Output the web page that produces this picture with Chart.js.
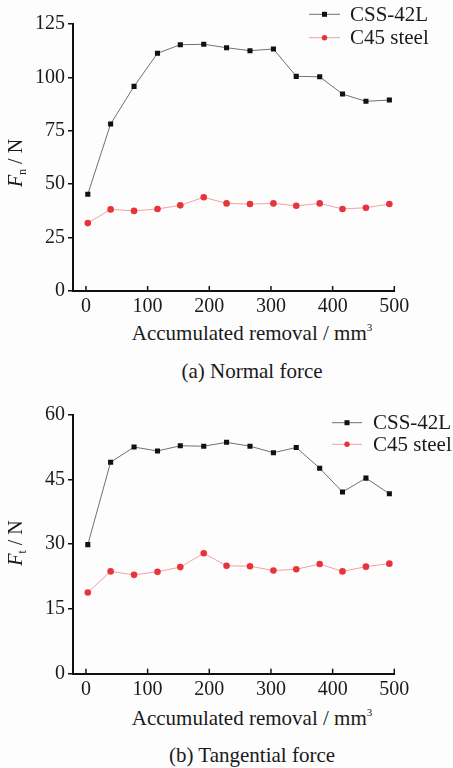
<!DOCTYPE html>
<html lang="en">
<head>
<meta charset="UTF-8">
<title>Normal and tangential force</title>
<script src="https://cdn.jsdelivr.net/npm/chart.js"></script>
<style>
  body { margin: 0; background: #fdfdfd; font-family: "Liberation Serif", "Times New Roman", serif; color: #1a1a1a; }
  .page { position: relative; width: 453px; height: 768px; overflow: hidden; }
  canvas { position: absolute; left: 0; }
  .lbl { position: absolute; transform: translate(-50%, -50%); white-space: nowrap; font-size: 21px; line-height: 1; }
  .ylbl { font-size: 20px; transform: translate(-50%, -50%) rotate(-90deg); }
  sub { font-size: 12px; vertical-align: -4px; }
  sup { font-size: 11px; vertical-align: 9px; }
</style>
</head>
<body>
<div class="page">
  <canvas id="normalChart" width="453" height="320" style="top:0"></canvas>
  <canvas id="tangChart" width="453" height="320" style="top:384px"></canvas>

  <div class="lbl ylbl" style="left:16px; top:163px"><i>F</i><sub>n</sub> / N</div>
  <div class="lbl" style="left:252px; top:333px">Accumulated removal / mm<sup>3</sup></div>
  <div class="lbl" style="left:252px; top:371px">(a) Normal force</div>

  <div class="lbl ylbl" style="left:16px; top:543px"><i>F</i><sub>t</sub> / N</div>
  <div class="lbl" style="left:252px; top:718px">Accumulated removal / mm<sup>3</sup></div>
  <div class="lbl" style="left:252px; top:755px">(b) Tangential force</div>
</div>

<script>
// data
const removal = [3, 40, 78, 116, 153, 191, 228, 266, 304, 341, 379, 416, 454, 492];
const fnCSS = [45.3, 78.2, 95.8, 111.3, 115.3, 115.5, 113.9, 112.5, 113.3, 100.5, 100.3, 92.2, 88.8, 89.4];
const fnC45 = [31.8, 38.2, 37.5, 38.4, 40.1, 43.9, 41.0, 40.7, 41.0, 39.9, 41.0, 38.4, 39.0, 40.7];
const ftCSS = [29.9, 49.0, 52.5, 51.6, 52.8, 52.7, 53.6, 52.7, 51.2, 52.4, 47.6, 42.1, 45.3, 41.7];
const ftC45 = [18.8, 23.7, 22.9, 23.6, 24.7, 27.9, 25.0, 24.9, 23.9, 24.2, 25.4, 23.7, 24.8, 25.5];
const seriesNames = ['CSS-42L', 'C45 steel'];
const xTicks = [0, 100, 200, 300, 400, 500];
const fnTicks = [0, 25, 50, 75, 100, 125];
const ftTicks = [0, 15, 30, 45, 60];

const FONT = '"Liberation Serif", "Times New Roman", serif';

function pts(ys) {
  return removal.map((x, i) => ({ x: x, y: ys[i] }));
}

// inward x ticks and the little legend in the corner
const extras = {
  id: 'extras',
  afterDraw(chart, args, opts) {
    const ctx = chart.ctx;
    const area = chart.chartArea;
    const xs = chart.scales.x;
    ctx.save();
    ctx.strokeStyle = '#111';
    ctx.lineWidth = 1.5;
    xTicks.forEach(v => {
      const px = xs.getPixelForValue(v);
      ctx.beginPath();
      ctx.moveTo(px, area.bottom);
      ctx.lineTo(px, area.bottom - 5);
      ctx.stroke();
    });

    ctx.font = '21px ' + FONT;
    ctx.textBaseline = 'middle';
    chart.data.datasets.forEach((ds, i) => {
      const y = opts.y0 + i * opts.gap;
      const mx = (opts.x0 + opts.x1) / 2;
      ctx.strokeStyle = ds.borderColor;
      ctx.lineWidth = 1;
      ctx.beginPath();
      ctx.moveTo(opts.x0, y);
      ctx.lineTo(opts.x1, y);
      ctx.stroke();
      ctx.fillStyle = ds.pointBackgroundColor;
      if (ds.pointStyle === 'rect') {
        ctx.fillRect(mx - 2.5, y - 2.5, 5, 5);
      } else {
        ctx.beginPath();
        ctx.arc(mx, y, 2.7, 0, Math.PI * 2);
        ctx.fill();
      }
      ctx.fillStyle = '#1a1a1a';
      ctx.fillText(ds.label, opts.tx, y + 1);
    });
    ctx.restore();
  }
};

function makeChart(id, cssVals, c45Vals, yTicks, yMax, padTop, xHeight, legend) {
  return new Chart(document.getElementById(id), {
    type: 'line',
    data: {
      datasets: [{
        label: seriesNames[0],
        data: pts(cssVals),
        borderColor: '#707070',
        borderWidth: 1,
        pointStyle: 'rect',
        pointRadius: 3.6,
        pointBackgroundColor: '#111',
        pointBorderWidth: 0,
        tension: 0
      }, {
        label: seriesNames[1],
        data: pts(c45Vals),
        borderColor: '#f2a0a0',
        borderWidth: 1,
        pointStyle: 'circle',
        pointRadius: 3.3,
        pointBackgroundColor: '#e8333b',
        pointBorderWidth: 0,
        tension: 0
      }]
    },
    options: {
      responsive: false,
      animation: false,
      layout: { padding: { top: padTop, right: 58.7, left: 0, bottom: 0 } },
      plugins: {
        legend: { display: false },
        tooltip: { enabled: false },
        extras: legend
      },
      scales: {
        x: {
          type: 'linear',
          min: -21,
          max: 500,
          afterBuildTicks: s => { s.ticks = xTicks.map(v => ({ value: v })); },
          afterFit: s => { s.height = xHeight; },
          grid: { display: false },
          border: { color: '#111', width: 2 },
          ticks: { font: { family: FONT, size: 20 }, color: '#1a1a1a', padding: -4, maxRotation: 0 }
        },
        y: {
          min: 0,
          max: yMax,
          afterBuildTicks: s => { s.ticks = yTicks.map(v => ({ value: v })); },
          afterFit: s => { s.width = 73; },
          grid: { drawOnChartArea: false, tickLength: 5, color: '#111', lineWidth: 1.5 },
          border: { color: '#111', width: 2 },
          ticks: { font: { family: FONT, size: 20 }, color: '#1a1a1a', padding: 3 }
        }
      }
    },
    plugins: [extras]
  });
}

makeChart('normalChart', fnCSS, fnC45, fnTicks, 125, 24, 29,
  { x0: 309, x1: 340, tx: 350, y0: 14.3, gap: 23.4 });
makeChart('tangChart', ftCSS, ftC45, ftTicks, 60, 30.7, 30.3,
  { x0: 332, x1: 362, tx: 373, y0: 38.7, gap: 21.6 });
</script>
</body>
</html>
